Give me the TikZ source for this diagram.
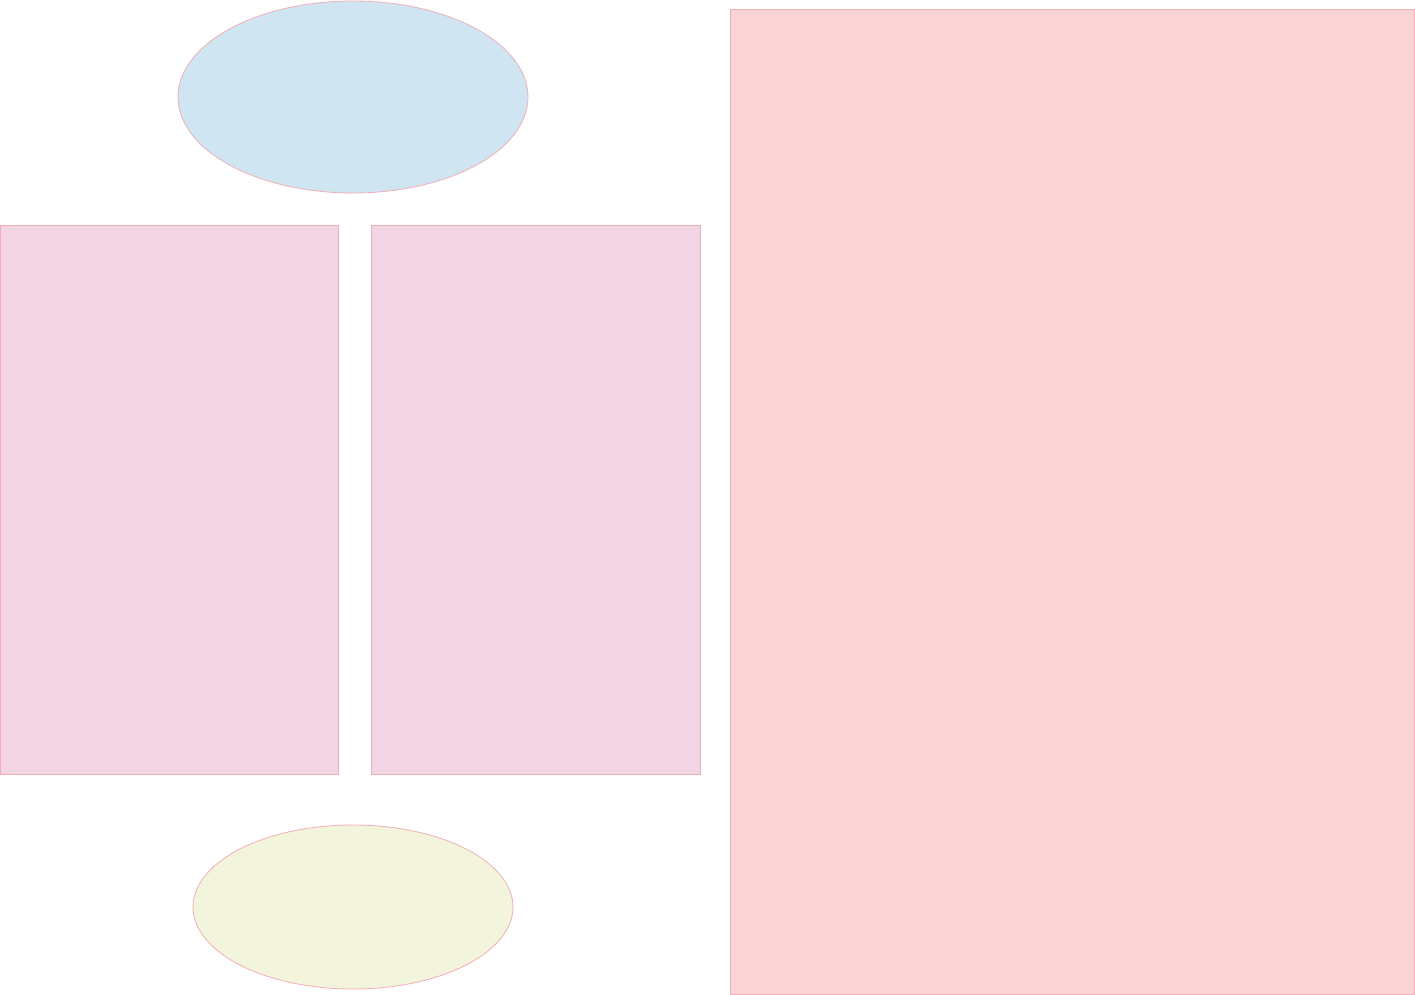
\documentclass[tikz,border=0pt]{standalone}
\usetikzlibrary{shapes.geometric}
\definecolor{edgepink}{HTML}{F2AEB6}
\definecolor{bluefill}{HTML}{CFE5F1}
\definecolor{mauvefill}{HTML}{F2D4E3}
\definecolor{rosefill}{HTML}{FAD3D5}
\definecolor{creamfill}{HTML}{F2F4DC}
\begin{document}
\begin{tikzpicture}[x=1pt,y=-1pt,
  shapebase/.style={draw=edgepink,line width=0.8pt,inner sep=0pt,outer sep=0pt},
  oval/.style={shapebase,ellipse},
  panel/.style={shapebase,rectangle}]
\useasboundingbox (0,0) rectangle (1415,995);
\node[oval,fill=bluefill,minimum width=350pt,minimum height=192pt] (top) at (353,97) {};
\node[panel,fill=mauvefill,minimum width=338pt,minimum height=549pt] (leftpanel) at (169,499.5) {};
\node[panel,fill=mauvefill,minimum width=329pt,minimum height=549pt] (midpanel) at (535.5,499.5) {};
\node[panel,fill=rosefill,minimum width=684pt,minimum height=985pt] (rightpanel) at (1072,501.5) {};
\node[oval,fill=creamfill,minimum width=320pt,minimum height=164pt] (bottom) at (353,907) {};
\end{tikzpicture}
\end{document}
